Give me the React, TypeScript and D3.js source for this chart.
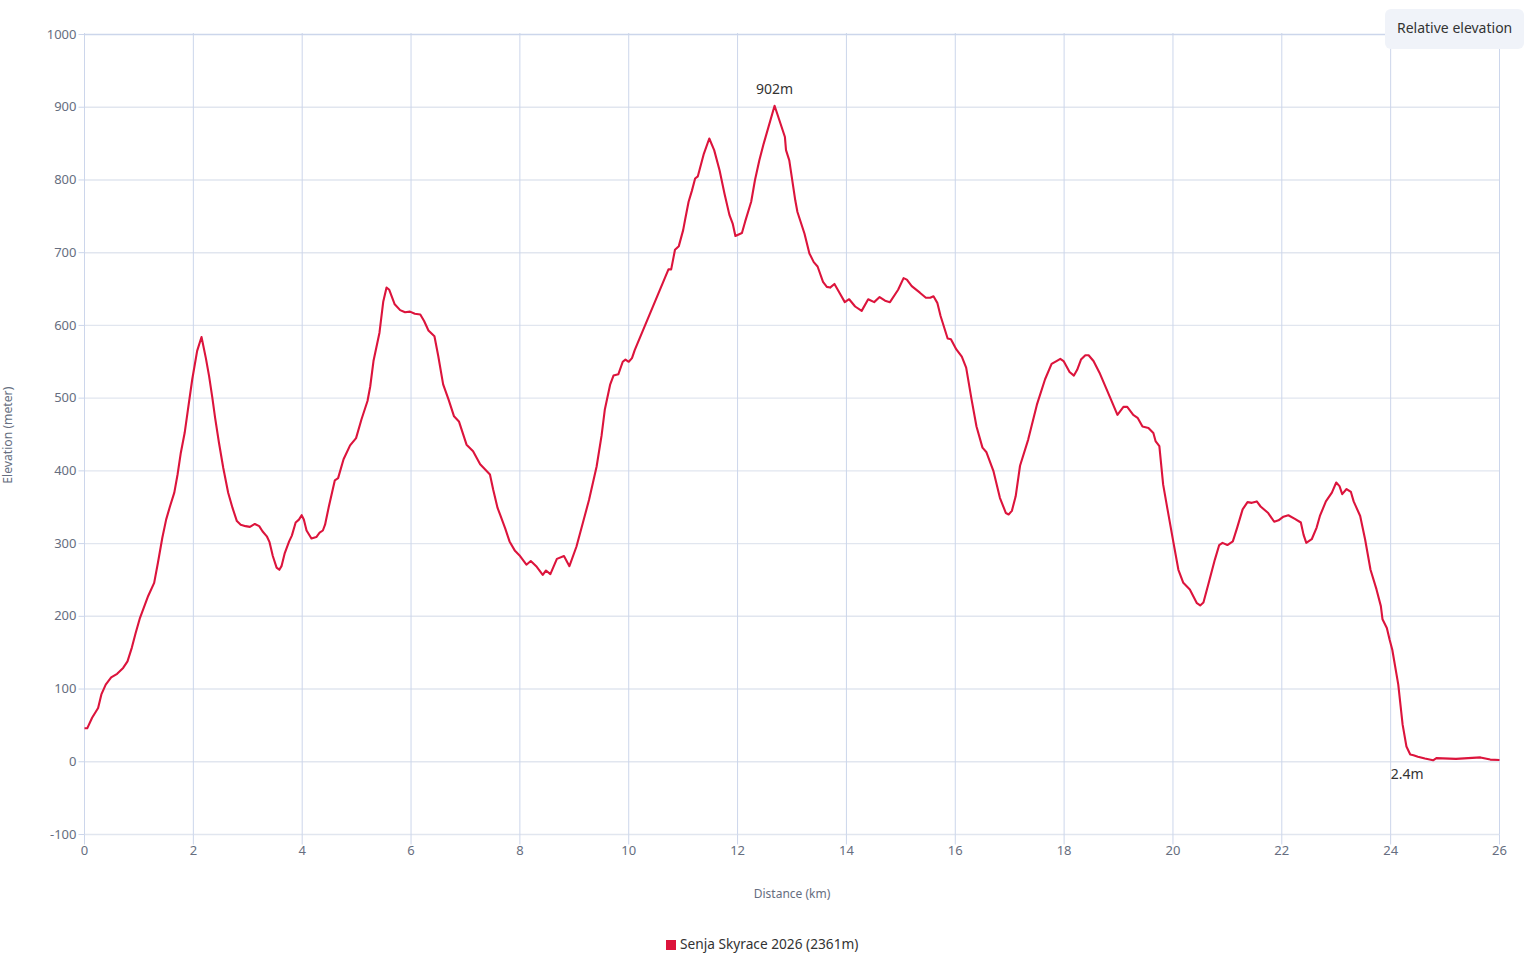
import { useEffect, useRef } from 'react'
import * as d3 from 'd3'

const distanceKm = [
  0, 0.05, 0.14, 0.25, 0.31, 0.39, 0.49, 0.6, 0.71, 0.79,
  0.87, 0.94, 1.02, 1.09, 1.17, 1.28, 1.35, 1.43, 1.5, 1.57,
  1.65, 1.71, 1.77, 1.84, 1.9, 1.98, 2.07, 2.15, 2.23, 2.29,
  2.35, 2.4, 2.47, 2.55, 2.64, 2.72, 2.8, 2.87, 2.96, 3.04,
  3.13, 3.21, 3.27, 3.35, 3.4, 3.46, 3.53, 3.58, 3.62, 3.68,
  3.76, 3.81, 3.88, 3.94, 3.99, 4.03, 4.08, 4.17, 4.26, 4.32,
  4.38, 4.42, 4.49, 4.6, 4.66, 4.76, 4.88, 4.99, 5.09, 5.2,
  5.25, 5.31, 5.42, 5.49, 5.55, 5.6, 5.7, 5.8, 5.89, 5.98,
  6.07, 6.17, 6.24, 6.32, 6.43, 6.5, 6.59, 6.69, 6.79, 6.88,
  7.02, 7.14, 7.27, 7.45, 7.51, 7.59, 7.64, 7.73, 7.81, 7.91,
  7.99, 8.12, 8.2, 8.31, 8.42, 8.48, 8.56, 8.68, 8.81, 8.91,
  9.04, 9.17, 9.27, 9.41, 9.5, 9.56, 9.66, 9.72, 9.81, 9.89,
  9.94, 10, 10.06, 10.11, 10.73, 10.78, 10.85, 10.92, 11, 11.04,
  11.1, 11.16, 11.22, 11.27, 11.38, 11.48, 11.57, 11.67, 11.76, 11.85,
  11.91, 11.96, 12.08, 12.14, 12.25, 12.32, 12.4, 12.48, 12.68, 12.87,
  12.89, 12.95, 13.06, 13.1, 13.23, 13.32, 13.4, 13.47, 13.57, 13.64,
  13.7, 13.78, 13.88, 13.97, 14.05, 14.16, 14.28, 14.4, 14.51, 14.61,
  14.71, 14.8, 14.95, 15.05, 15.11, 15.2, 15.35, 15.46, 15.54, 15.6,
  15.67, 15.73, 15.86, 15.92, 16.02, 16.12, 16.2, 16.3, 16.39, 16.5,
  16.57, 16.7, 16.82, 16.93, 16.98, 17.04, 17.11, 17.19, 17.34, 17.5,
  17.65, 17.77, 17.86, 17.93, 17.99, 18.1, 18.18, 18.24, 18.31, 18.39,
  18.45, 18.54, 18.65, 18.85, 18.98, 19.09, 19.16, 19.27, 19.35, 19.44,
  19.55, 19.64, 19.68, 19.75, 19.82, 19.9, 20.01, 20.1, 20.19, 20.31,
  20.44, 20.5, 20.56, 20.65, 20.77, 20.85, 20.91, 21, 21.1, 21.18,
  21.28, 21.37, 21.45, 21.54, 21.61, 21.75, 21.86, 21.94, 22.03, 22.12,
  22.24, 22.35, 22.4, 22.45, 22.55, 22.64, 22.7, 22.81, 22.92, 23,
  23.06, 23.11, 23.19, 23.27, 23.32, 23.44, 23.53, 23.63, 23.74, 23.82,
  23.85, 23.93, 23.98, 24.03, 24.14, 24.22, 24.29, 24.36, 24.42, 24.5,
  24.63, 24.78, 24.84, 25.2, 25.65, 25.83, 26,
]

const elevationM = [
  46, 46, 60.5, 74, 92.6, 106, 116, 121, 129, 138,
  157, 177, 198, 212, 228, 246, 274, 308, 333, 351,
  370, 395, 425, 452, 484, 526, 565, 584, 555, 530,
  500, 473, 439, 404, 370, 349, 331, 326, 324, 323,
  327, 324, 317, 310, 302, 283, 267, 264, 269, 287,
  303, 311, 329, 333, 339, 333, 318, 307, 309, 315,
  318, 326, 351, 387, 390, 416, 435, 445, 471, 496,
  516, 551, 590, 633, 652, 649, 629, 621, 618, 619,
  616, 615, 606, 593, 585, 558, 519, 498, 475, 468,
  436, 427, 409, 395, 374, 349, 339, 321, 303, 290,
  284, 271, 276, 268, 257, 263, 258, 279, 283, 269,
  296, 332, 360, 406, 448, 484, 519, 531, 533, 550,
  553, 550, 555, 566, 677, 677, 704, 709, 731, 747,
  770, 785, 802, 805, 836, 857, 841, 813, 781, 752,
  740, 723, 727, 743, 770, 800, 827, 850, 902, 859,
  841, 827, 772, 756, 726, 699, 687, 681, 660, 653,
  652, 657, 644, 632, 636, 626, 620, 636, 632, 639,
  634, 632, 649, 665, 663, 654, 645, 638, 638, 640,
  631, 613, 582, 581, 567, 557, 542, 498, 461, 432,
  426, 400, 363, 342, 340, 345, 365, 407, 443, 491,
  526, 547, 551, 554, 551, 536, 531, 539, 553, 559,
  559, 551, 535, 500, 477, 488, 488, 477, 473, 461,
  459, 452, 441, 434, 381, 347, 301, 264, 246, 237,
  218, 215, 219, 244, 278, 298, 301, 298, 303, 322,
  347, 357, 356, 358, 351, 342, 330, 332, 337, 339,
  334, 329, 312, 301, 306, 322, 338, 358, 370, 384,
  379, 368, 375, 371, 358, 338, 306, 264, 237, 214,
  196, 184, 168, 154, 106, 51, 21, 10, 9, 7,
  4.5, 2, 5, 4, 6, 3, 2.4,
]

const xTicks = [0, 2, 4, 6, 8, 10, 12, 14, 16, 18, 20, 22, 24, 26]
const yTicks = [-100, 0, 100, 200, 300, 400, 500, 600, 700, 800, 900, 1000]
const seriesName = 'Senja Skyrace 2026 (2361m)'
const maxLabel = '902m'
const minLabel = '2.4m'

const FONT = '"Noto Sans", sans-serif'
const AXIS_TEXT = '#666e80'
const GRID_V = '#ccd6eb'
const GRID_H = '#e1e6ef'
const RED = '#dc143c'

export default function App() {
  const svgRef = useRef<SVGSVGElement>(null)

  useEffect(() => {
    if (!svgRef.current) return
    const svg = d3.select(svgRef.current)
    svg.selectAll('*').remove()

    const x = d3.scaleLinear().domain([0, 26]).range([84.5, 1499.5])
    const y = d3.scaleLinear().domain([-100, 1000]).range([834.5, 34.5])

    // horizontal grid
    svg.append('g')
      .selectAll('line')
      .data(yTicks)
      .enter()
      .append('line')
      .attr('x1', x(0))
      .attr('x2', x(26))
      .attr('y1', d => y(d))
      .attr('y2', d => y(d))
      .attr('stroke', d => (d === 1000 ? GRID_V : GRID_H))
      .attr('stroke-width', 1.4)

    // vertical grid
    svg.append('g')
      .selectAll('line')
      .data(xTicks)
      .enter()
      .append('line')
      .attr('x1', d => x(d))
      .attr('x2', d => x(d))
      .attr('y1', 33)
      .attr('y2', y(-100))
      .attr('stroke', GRID_V)
      .attr('stroke-width', 1)

    const xAxis = svg.append('g')
      .attr('transform', `translate(0,${y(-100)})`)
      .call(d3.axisBottom(x).tickValues(xTicks).tickFormat(d => String(d)).tickSize(10).tickPadding(0).offset(0))
    const yAxis = svg.append('g')
      .attr('transform', `translate(${x(0)},0)`)
      .call(d3.axisLeft(y).tickValues(yTicks).tickFormat(d => String(d)).tickSize(6).tickPadding(2).offset(0))

    for (const axis of [xAxis, yAxis]) {
      axis.select('.domain').remove()
      axis.selectAll('line').attr('stroke', GRID_V)
      axis.selectAll('text')
        .style('font-family', FONT)
        .style('font-size', '13px')
        .style('fill', AXIS_TEXT)
    }
    xAxis.selectAll('text').attr('dy', '0.8em')

    // Elevation line
    const line = d3.line<number>()
      .x((_, i) => x(distanceKm[i]))
      .y(d => y(d))
      .curve(d3.curveLinear)

    svg.append('path')
      .datum(elevationM)
      .attr('d', line)
      .attr('fill', 'none')
      .attr('stroke', RED)
      .attr('stroke-width', 2.1)
      .attr('stroke-linejoin', 'round')

    // Max / min labels
    const maxIndex = d3.maxIndex(elevationM)
    svg.append('text')
      .attr('x', x(distanceKm[maxIndex]))
      .attr('y', y(elevationM[maxIndex]) - 12)
      .attr('text-anchor', 'middle')
      .style('font-family', FONT)
      .style('font-size', '14px')
      .style('fill', '#333')
      .text(maxLabel)

    svg.append('text')
      .attr('x', x(24))
      .attr('y', y(0) + 17)
      .style('font-family', FONT)
      .style('font-size', '14px')
      .style('fill', '#333')
      .text(minLabel)

    // Axis titles
    svg.append('text')
      .attr('transform', `translate(12,${y(449)}) rotate(-90)`)
      .attr('text-anchor', 'middle')
      .style('font-family', FONT)
      .style('font-size', '12.2px')
      .style('fill', AXIS_TEXT)
      .text('Elevation (meter)')

    svg.append('text')
      .attr('x', 792)
      .attr('y', 898)
      .attr('text-anchor', 'middle')
      .style('font-family', FONT)
      .style('font-size', '12px')
      .style('fill', AXIS_TEXT)
      .text('Distance (km)')

    // Legend
    svg.append('rect')
      .attr('x', 666)
      .attr('y', 940)
      .attr('width', 10)
      .attr('height', 10)
      .attr('fill', RED)
    svg.append('text')
      .attr('x', 680)
      .attr('y', 949)
      .style('font-family', FONT)
      .style('font-size', '13.7px')
      .style('fill', '#333')
      .text(seriesName)

    // Toggle button
    svg.append('rect')
      .attr('x', 1385)
      .attr('y', 9)
      .attr('width', 139)
      .attr('height', 40)
      .attr('rx', 6)
      .attr('fill', '#f0f3f9')
    svg.append('text')
      .attr('x', 1397)
      .attr('y', 33)
      .style('font-family', FONT)
      .style('font-size', '14px')
      .style('fill', '#333')
      .text('Relative elevation')
  }, [])

  return (
    <svg
      ref={svgRef}
      width={1524}
      height={974}
      style={{ position: 'absolute', left: 0, top: 0, display: 'block' }}
    />
  )
}
